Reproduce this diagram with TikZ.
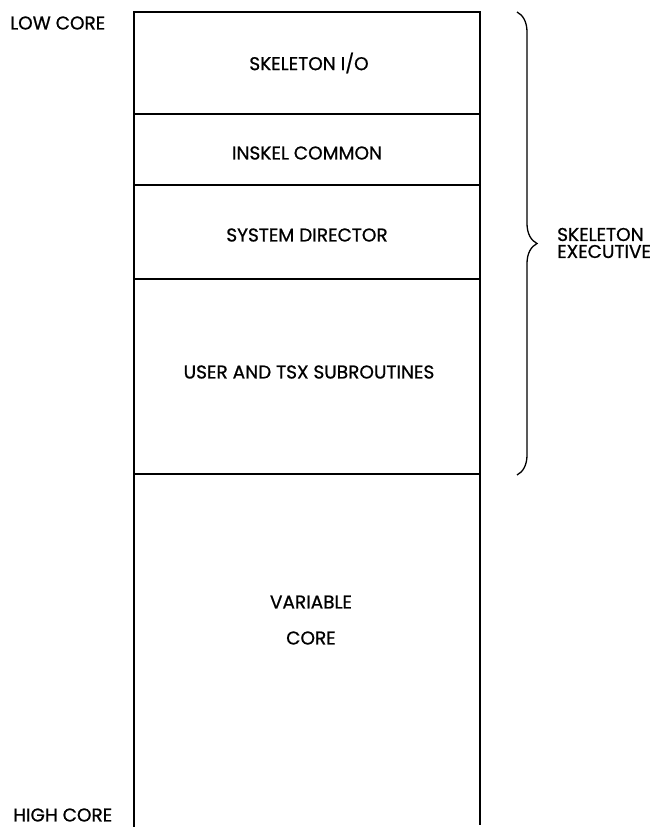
\documentclass[tikz,border=0pt]{standalone}
\usepackage{fontspec}
\setmainfont{Poppins}[FakeBold=0.8]
\usetikzlibrary{decorations.pathreplacing}

\begin{document}
\begin{tikzpicture}[x=1pt,y=-1pt,
  label/.style={font=\fontsize{18.5}{17}\selectfont, inner sep=0pt},
  wall/.style={line width=1.6pt}]
  \useasboundingbox (0,0) rectangle (656,827);
  % outline of core, open at the bottom
  \coordinate (TL) at (134,12);
  \coordinate (TR) at (480,12);
  \coordinate (BL) at (134,827);
  \coordinate (BR) at (480,825);
  \draw[wall] (BL) -- (TL) -- (TR) -- (BR);
  % partitions
  \foreach \y in {114,185,279,474}
    \draw[wall] (TL |- 0,\y) -- (TR |- 0,\y);
  % region names
  \node[label] (sio) at (309,63) {SKELETON I/O};
  \node[label] (inskel) at (307,153) {INSKEL COMMON};
  \node[label] (sysdir) at (307,235) {SYSTEM DIRECTOR};
  \node[label] (subr) at (309,372) {USER AND TSX SUBROUTINES};
  \node[label] (var) at (311,602) {VARIABLE};
  \node[label] (core) at (311,638) {CORE};
  % ends of core
  \node[label, anchor=west] (low) at (10,23) {LOW CORE};
  \node[label, anchor=west] (high) at (13,815) {HIGH CORE};
  % brace
  \coordinate (btop) at (517,12);
  \coordinate (bbot) at (517,475);
  \draw[line width=1.3pt, decorate, decoration={brace, amplitude=20pt}]
    (btop) -- (bbot);
  \node[label, align=left, anchor=west] (exec) at (557,243) {SKELETON\\EXECUTIVE};
\end{tikzpicture}
\end{document}
